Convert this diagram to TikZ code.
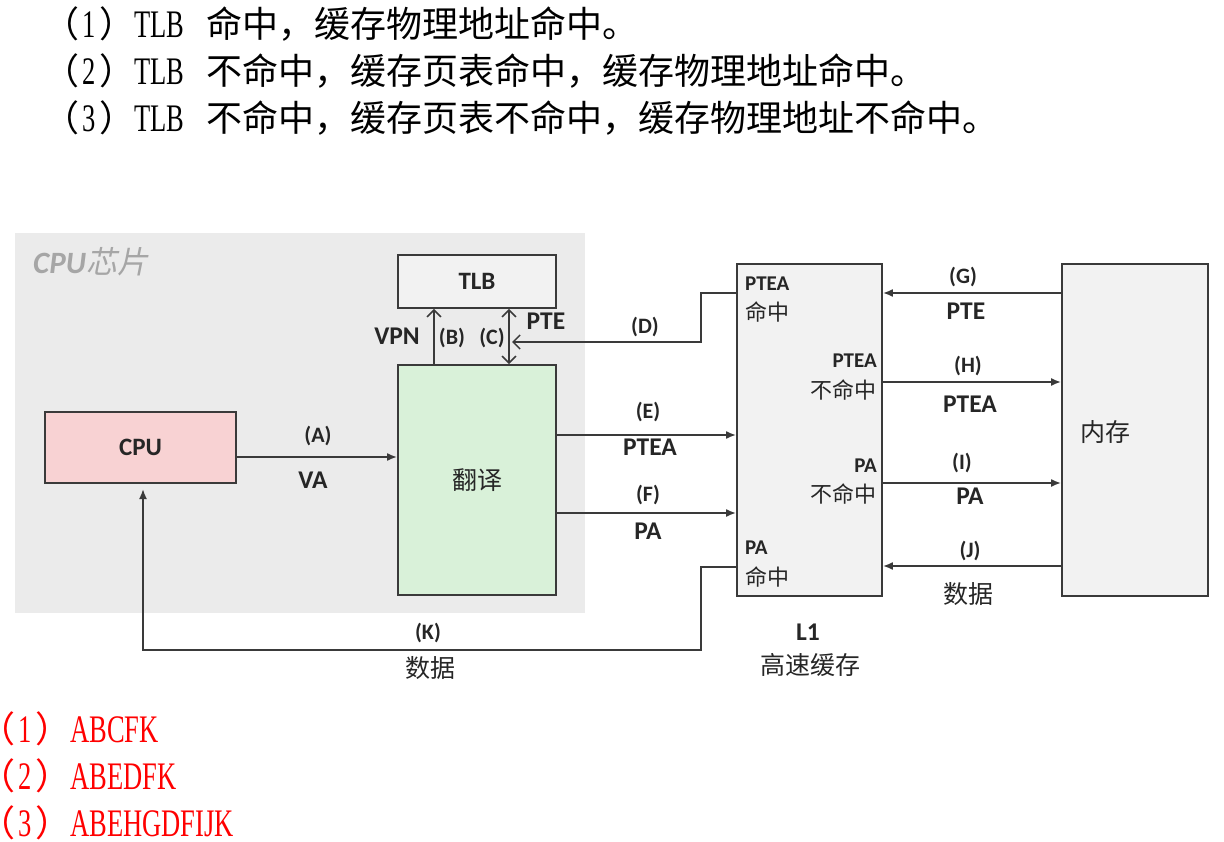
\documentclass[tikz,border=0pt]{standalone}
\usepackage{fontspec}
\setmainfont{Carlito}
\newfontfamily\cjk{Noto Sans CJK SC}
\newfontfamily\cjki[FakeSlant=0.2]{Noto Sans CJK SC}
\newfontfamily\latn[FakeStretch=0.68]{Liberation Serif}
\usetikzlibrary{arrows.meta}
\definecolor{linec}{HTML}{3A3A3A}
\definecolor{txt}{HTML}{262626}
\definecolor{bggray}{HTML}{EBEBEB}
\definecolor{boxgray}{HTML}{F2F2F2}
\definecolor{cpupink}{HTML}{F8D2D3}
\definecolor{trgreen}{HTML}{D9F1D9}
\definecolor{chipgray}{HTML}{A6A6A6}
\newcommand\lt[1]{{\latn\fontsize{39}{40}\selectfont #1}}
\newcommand\numpar[1]{（\hspace{3pt}\lt{#1}\hspace{4pt}）\hspace{-1pt}}
\begin{document}
\begin{tikzpicture}[x=1pt,y=-1pt,
  box/.style={draw=linec, line width=1.8pt, fill=boxgray, inner sep=0, text=txt},
  lab/.style={font=\fontsize{22}{24}\selectfont\bfseries, text=txt, inner sep=0},
  big/.style={font=\fontsize{25.5}{28}\selectfont\bfseries, text=txt, inner sep=0},
  zh/.style={font=\fontsize{25}{28}\selectfont\cjk, text=txt, inner sep=0},
  zhs/.style={font=\fontsize{22}{24}\selectfont\cjk, text=txt, inner sep=0},
  inl/.style={font=\fontsize{21}{23}\selectfont\bfseries, text=txt, inner sep=0},
  topline/.style={anchor=base west, inner sep=0, font=\fontsize{36}{40}\selectfont\cjk},
  flow/.style={draw=linec, line width=1.8pt, -{Latex[length=10pt,width=8pt]}},
  openarr/.style={draw=linec, line width=1.5pt, -{Straight Barb[length=7pt,width=14pt]}},
]
\useasboundingbox (0,0) rectangle (1224,842);

% top text
\node[topline] (t1) at (43,38) {\numpar{1}\lt{TLB}\hspace{22pt}命中，缓存物理地址命中。};
\node[topline] (t2) at (43,85) {\numpar{2}\lt{TLB}\hspace{22pt}不命中，缓存页表命中，缓存物理地址命中。};
\node[topline] (t3) at (43,132) {\numpar{3}\lt{TLB}\hspace{22pt}不命中，缓存页表不命中，缓存物理地址不命中。};

% CPU chip background
\fill[bggray] (15,233) rectangle (585,613);
\node[anchor=west, inner sep=0, text=chipgray, font=\fontsize{31}{34}\selectfont\bfseries\itshape] (chip) at (33,262) {CPU{\mdseries\cjki 芯片}};

% boxes
\node[box, minimum width=158pt, minimum height=53pt, font=\fontsize{25}{28}\selectfont\bfseries] (tlb) at (477,281.5) {TLB};
\node[box, fill=trgreen, minimum width=158pt, minimum height=230pt, font=\fontsize{25}{28}\selectfont\cjk] (tr) at (477,480) {翻译};
\node[box, fill=cpupink, minimum width=191pt, minimum height=71pt, font=\fontsize{25}{28}\selectfont\bfseries] (cpu) at (140.5,447.5) {CPU};
\node[box, minimum width=145pt, minimum height=332pt] (l1) at (809.5,430) {};
\node[box, minimum width=146pt, minimum height=332pt] (mem) at (1135,430) {};
\node[zh] (memt) at (1105,432) {内存};

% texts inside L1
\node[inl, anchor=west] (p1) at (745,284) {PTEA};
\node[zhs, anchor=west] (p1z) at (745,312) {命中};
\node[inl, anchor=east] (p2) at (877,361) {PTEA};
\node[zhs, anchor=east] (p2z) at (877,390) {不命中};
\node[inl, anchor=east] (p3) at (877,466) {PA};
\node[zhs, anchor=east] (p3z) at (877,494) {不命中};
\node[inl, anchor=west] (p4) at (745,548) {PA};
\node[zhs, anchor=west] (p4z) at (745,577) {命中};

\node[big] (l1t) at (808,632) {L1};
\node[zh] (l1z) at (810,665) {高速缓存};

% connectors
\draw[flow] (cpu.east |- 0,457) -- (tr.west |- 0,457);
\draw[openarr] (tr.north -| 434,0) -- (tlb.south -| 434,0);
\draw[openarr, {Straight Barb[length=7pt,width=14pt]}-{Straight Barb[length=7pt,width=14pt]}] (tr.north -| 509,0) -- (tlb.south -| 509,0);
\draw[openarr] (l1.west |- 0,293) -- (701,293) -- (701,342) -- (512,342);
\draw[flow] (tr.east |- 0,435) -- (l1.west |- 0,435);
\draw[flow] (tr.east |- 0,513) -- (l1.west |- 0,513);
\draw[flow] (mem.west |- 0,293) -- (l1.east |- 0,293);
\draw[flow] (l1.east |- 0,382) -- (mem.west |- 0,382);
\draw[flow] (l1.east |- 0,483) -- (mem.west |- 0,483);
\draw[flow] (mem.west |- 0,566) -- (l1.east |- 0,566);
\draw[flow] (l1.west |- 0,567) -- (701,567) -- (701,650) -- (143,650) -- (143,489);

% labels
\node[lab] (la) at (318,436) {(A)};
\node[big] (lva) at (313,480) {VA};
\node[big] (lvpn) at (397,336) {VPN};
\node[lab] (lb) at (452,338) {(B)};
\node[lab] (lc) at (492,338) {(C)};
\node[big] (lpte) at (546,321) {PTE};
\node[lab] (ld) at (645,327) {(D)};
\node[lab] (le) at (648,412) {(E)};
\node[big] (lptea) at (650,447) {PTEA};
\node[lab] (lf) at (648,495) {(F)};
\node[big] (lpa) at (648,531) {PA};
\node[lab] (lg) at (963,277) {(G)};
\node[big] (lpte2) at (966,311) {PTE};
\node[lab] (lh) at (968,366) {(H)};
\node[big] (lptea2) at (970,404) {PTEA};
\node[lab] (li) at (962,463) {(I)};
\node[big] (lpa2) at (970,496) {PA};
\node[lab] (lj) at (970,551) {(J)};
\node[zh] (ldata) at (968,594) {数据};
\node[lab] (lk) at (428,633) {(K)};
\node[zh] (ldata2) at (430,668) {数据};

% red answers
\node[topline, text=red] (r1) at (0,742) {\hspace*{-21pt}\numpar{1}\lt{ABCFK}};
\node[topline, text=red] (r2) at (0,789) {\hspace*{-21pt}\numpar{2}\lt{ABEDFK}};
\node[topline, text=red] (r3) at (0,836) {\hspace*{-21pt}\numpar{3}\lt{ABEHGDFIJK}};
\end{tikzpicture}
\end{document}
